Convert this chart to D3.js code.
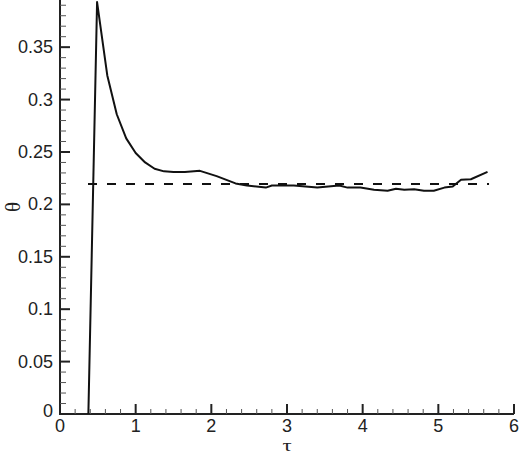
<!DOCTYPE html>
<html><head><meta charset="utf-8">
<script src="https://cdn.jsdelivr.net/npm/d3@7"></script>
<style>html,body{margin:0;padding:0;background:#fff;}</style>
</head><body>
<svg id="c" width="520" height="455"></svg>
<script>
const tau = [0.375, 0.49, 0.625, 0.75, 0.875, 1.0, 1.125, 1.25, 1.375, 1.5, 1.65, 1.85, 2.07, 2.32, 2.47, 2.72, 2.80, 3.09, 3.40, 3.69, 3.80, 3.97, 4.15, 4.33, 4.44, 4.55, 4.68, 4.81, 4.94, 5.08, 5.19, 5.30, 5.43, 5.65];
const theta = [0.0, 0.393, 0.323, 0.286, 0.263, 0.249, 0.240, 0.234, 0.2315, 0.231, 0.231, 0.232, 0.227, 0.220, 0.218, 0.216, 0.218, 0.218, 0.216, 0.218, 0.216, 0.216, 0.214, 0.213, 0.215, 0.214, 0.2145, 0.213, 0.213, 0.216, 0.217, 0.2235, 0.224, 0.231];
const refTau = [0.37, 5.67];
const refTheta = [0.2195, 0.2195];
const xTicks = [0, 1, 2, 3, 4, 5, 6];
const yTicks = [0, 0.05, 0.1, 0.15, 0.2, 0.25, 0.3, 0.35];

const svg = d3.select("#c");
const x = d3.scaleLinear().domain([0, 6]).range([60, 514]);
const y = d3.scaleLinear().domain([0, 0.395]).range([414, 0]);

const font = "'Liberation Sans', Arial, sans-serif";

// x axis
const xMinor = d3.range(0, 6.0001, 0.2).filter(v => Math.abs(v - Math.round(v)) > 1e-6);
const xa = svg.append("g").attr("transform", `translate(0,${y(0)})`);
xa.append("line").attr("x1", x(0)).attr("x2", x(6)).attr("stroke", "#222").attr("stroke-width", 2);
xa.selectAll(".mj").data(xTicks).join("line").attr("x1", d => x(d)).attr("x2", d => x(d)).attr("y1", 0).attr("y2", -10).attr("stroke", "#222").attr("stroke-width", 2);
xa.selectAll(".mn").data(xMinor).join("line").attr("x1", d => x(d)).attr("x2", d => x(d)).attr("y1", 0).attr("y2", -5).attr("stroke", "#555").attr("stroke-width", 1);
xa.selectAll("text").data(xTicks).join("text").attr("x", d => x(d)).attr("y", 18).attr("text-anchor", "middle")
  .attr("font-family", font).attr("font-size", 18).attr("fill", "#222").text(d => d);

// y axis
const yMinor = d3.range(0, 0.395, 0.01).filter(v => Math.abs(v / 0.05 - Math.round(v / 0.05)) > 1e-6);
const ya = svg.append("g").attr("transform", `translate(${x(0)},0)`);
ya.append("line").attr("y1", y(0) + 1).attr("y2", 0).attr("stroke", "#222").attr("stroke-width", 2);
ya.selectAll(".mj").data(yTicks).join("line").attr("y1", d => y(d)).attr("y2", d => y(d)).attr("x1", 0).attr("x2", 10).attr("stroke", "#222").attr("stroke-width", 2);
ya.selectAll(".mn").data(yMinor).join("line").attr("y1", d => y(d)).attr("y2", d => y(d)).attr("x1", 0).attr("x2", 6).attr("stroke", "#555").attr("stroke-width", 1);
ya.selectAll("text").data(yTicks).join("text").attr("x", -7).attr("y", d => y(d) + 6).attr("text-anchor", "end")
  .attr("font-family", font).attr("font-size", 18).attr("fill", "#222").text(d => d)
  .attr("dy", d => d === 0 ? -3 : 0);

// reference dashed line
svg.append("path").datum(refTau.map((t, i) => [t, refTheta[i]]))
  .attr("d", d3.line().x(d => x(d[0])).y(d => y(d[1])))
  .attr("fill", "none").attr("stroke", "#111").attr("stroke-width", 2).attr("stroke-dasharray", "9,10");

// curve
svg.append("path").datum(tau.map((t, i) => [t, theta[i]]))
  .attr("d", d3.line().x(d => x(d[0])).y(d => y(d[1])))
  .attr("fill", "none").attr("stroke", "#111").attr("stroke-width", 2).attr("stroke-linejoin", "round");

// axis labels
svg.append("text").attr("transform", `translate(${x(3)},451) scale(1.35,1)`).attr("text-anchor", "middle")
  .attr("font-family", "'Liberation Serif', serif").attr("font-size", 17).attr("fill", "#222").text("τ");
svg.append("text").attr("transform", `translate(20,${207}) rotate(-90)`).attr("text-anchor", "middle")
  .attr("font-family", "'Liberation Serif', serif").attr("font-size", 21).attr("fill", "#222").text("θ");
</script>
</body></html>
